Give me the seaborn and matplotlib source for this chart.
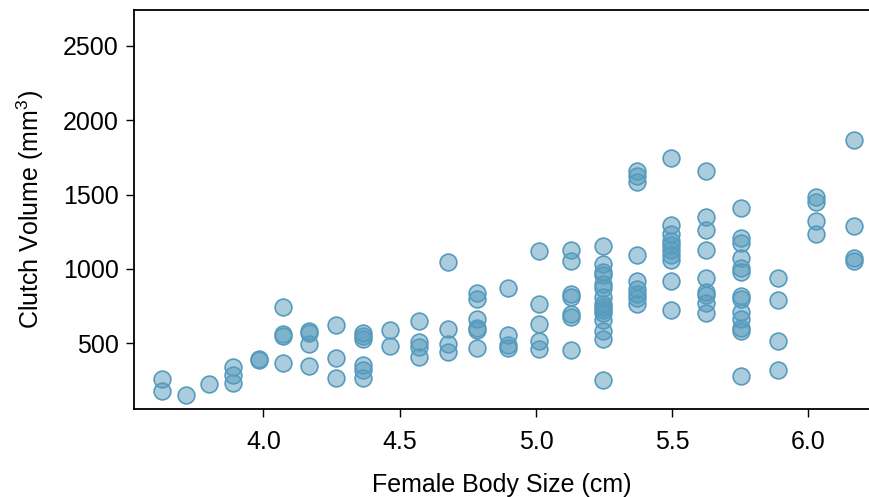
import numpy as np
import pandas as pd
import matplotlib
matplotlib.use("Agg")
import matplotlib.pyplot as plt
import seaborn as sns

# frog data: female body size vs clutch volume
body_size = (
    [3.629] * 2 + [3.715] * 1 + [3.801] * 1 + [3.890] * 3 + [3.982] * 2
    + [4.073] * 4 + [4.169] * 4 + [4.266] * 3 + [4.365] * 6 + [4.466] * 2
    + [4.571] * 4 + [4.678] * 4 + [4.785] * 6 + [4.898] * 4 + [5.012] * 5
    + [5.129] * 7 + [5.248] * 15 + [5.370] * 9 + [5.495] * 10 + [5.625] * 9
    + [5.754] * 13 + [5.889] * 4 + [6.027] * 4 + [6.166] * 4
)
clutch_volume = [
    258, 176,
    149,
    227,
    341, 290, 234,
    395, 385,
    742, 561, 547, 370,
    583, 567, 493, 346,
    620, 401, 268,
    567, 547, 532, 357, 323, 265,
    589, 481,
    649, 510, 477, 406,
    1048, 594, 493, 439,
    838, 795, 661, 603, 587, 471,
    872, 554, 487, 471,
    1123, 761, 633, 517, 459,
    1124, 1050, 829, 811, 697, 679, 458,
    1151, 1030, 979, 958, 898, 869, 811, 766, 744, 723, 701, 656, 583, 527, 252,
    1661, 1625, 1585, 1097, 916, 862, 833, 802, 766,
    1745, 1292, 1236, 1191, 1158, 1124, 1091, 1057, 916, 726,
    1661, 1351, 1260, 1124, 936, 842, 824, 772, 706,
    1413, 1205, 1172, 1074, 1003, 979, 819, 795, 712, 661, 601, 585, 281,
    936, 793, 513, 323,
    1484, 1451, 1324, 1232,
    1864, 1287, 1074, 1050,
]
x_ticks = [4.0, 4.5, 5.0, 5.5, 6.0]
y_ticks = [500, 1000, 1500, 2000, 2500]

df = pd.DataFrame({'body_size': body_size, 'clutch_volume': clutch_volume})

sns.set_style("ticks")
plt.rcParams['font.family'] = ['Liberation Sans', 'DejaVu Sans']
plt.rcParams['mathtext.fontset'] = 'custom'
plt.rcParams['mathtext.rm'] = 'Liberation Sans'
plt.rcParams['text.color'] = 'black'
plt.rcParams['axes.labelcolor'] = 'black'

blue = '#569BBD'

fig = plt.figure(figsize=(8.7, 4.97), dpi=100)
ax = fig.add_axes([0.154, 0.177, 0.846, 0.802])

sns.scatterplot(data=df, x='body_size', y='clutch_volume', ax=ax,
                s=145, facecolor=(0.337, 0.608, 0.741, 0.5),
                edgecolor=blue, linewidth=1.2)

ax.set_xlim(3.525, 6.226)
ax.set_ylim(58, 2738)
ax.set_xticks(x_ticks)
ax.set_xticklabels([f"{t:.1f}" for t in x_ticks])
ax.set_yticks(y_ticks)

ax.tick_params(axis='x', length=6, width=1.0, pad=9, labelsize=18, colors='black')
ax.tick_params(axis='y', length=6, width=1.0, pad=5, labelsize=18, colors='black')
for side in ['left', 'bottom', 'top']:
    ax.spines[side].set_linewidth(1.3)
    ax.spines[side].set_color('black')
ax.spines['right'].set_visible(False)

ax.set_xlabel('Female Body Size (cm)', fontsize=18, labelpad=14)
ax.set_ylabel('Clutch Volume (mm$^3$)', fontsize=18, labelpad=12)

fig.savefig('out.png', dpi=100)
plt.close()
